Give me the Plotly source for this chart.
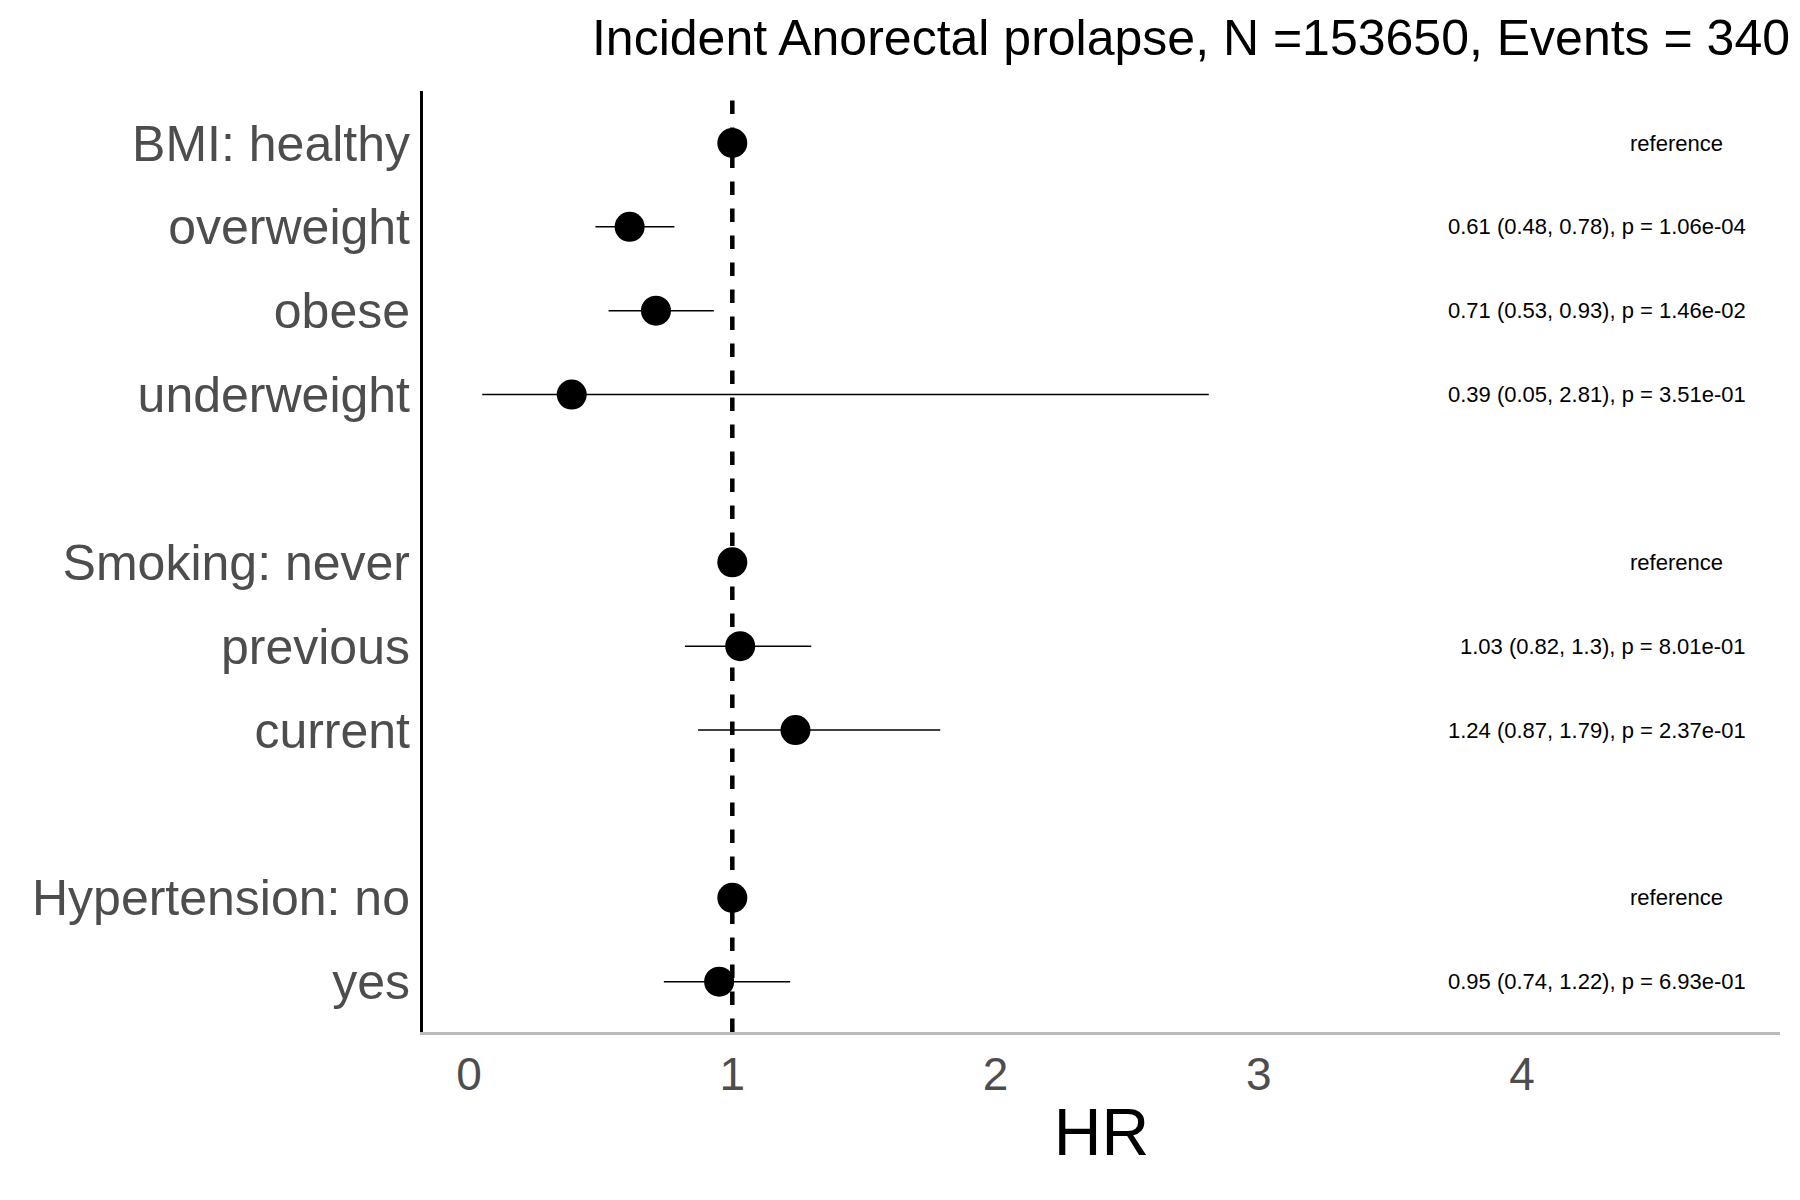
import plotly.graph_objects as go

labels = ["BMI: healthy", "overweight", "obese", "underweight", "",
          "Smoking: never", "previous", "current", "",
          "Hypertension: no", "yes"]
hr = [1, 0.61, 0.71, 0.39, None, 1, 1.03, 1.24, None, 1, 0.95]
lo = [1, 0.48, 0.53, 0.05, None, 1, 0.82, 0.87, None, 1, 0.74]
hi = [1, 0.78, 0.93, 2.81, None, 1, 1.30, 1.79, None, 1, 1.22]
notes = ["reference", "0.61 (0.48, 0.78), p = 1.06e-04", "0.71 (0.53, 0.93), p = 1.46e-02",
         "0.39 (0.05, 2.81), p = 3.51e-01", "", "reference",
         "1.03 (0.82, 1.3), p = 8.01e-01", "1.24 (0.87, 1.79), p = 2.37e-01", "",
         "reference", "0.95 (0.74, 1.22), p = 6.93e-01"]

rows = list(range(len(labels)))
keep = [i for i in rows if hr[i] is not None]

fig = go.Figure()
fig.add_trace(go.Scatter(
    x=[hr[i] for i in keep], y=keep, mode="markers",
    marker=dict(color="black", size=30),
    error_x=dict(type="data", symmetric=False,
                 array=[hi[i] - hr[i] for i in keep],
                 arrayminus=[hr[i] - lo[i] for i in keep],
                 color="black", thickness=1.5, width=0),
    showlegend=False))

fig.add_shape(type="line", x0=1, x1=1, y0=0, y1=1, yref="paper",
              line=dict(color="black", width=4.5, dash="dash"))

for i in keep:
    if notes[i] == "reference":
        fig.add_annotation(x=4.585, y=i, text=notes[i], showarrow=False,
                           xanchor="center", font=dict(size=22, color="black"))
    else:
        fig.add_annotation(x=4.86, y=i, text=notes[i], showarrow=False,
                           xanchor="right", font=dict(size=22, color="black"))

fig.update_layout(
    width=1800, height=1200, plot_bgcolor="white", paper_bgcolor="white",
    font=dict(family="Liberation Sans, Arial, sans-serif"),
    margin=dict(l=415, r=28, t=83, b=176),
    title=dict(text="Incident Anorectal prolapse, N =153650, Events = 340",
               x=0.99, xanchor="right", y=0.99, yanchor="top",
               font=dict(size=50, color="black")),
    xaxis=dict(range=[-0.175, 4.98], tickvals=[0, 1, 2, 3, 4],
               showgrid=False, zeroline=False, showline=True,
               linecolor="#bbbbbb", linewidth=3, ticks="",
               tickfont=dict(size=46, color="#4d4d4d"),
               title=dict(text="HR", font=dict(size=66, color="black"), standoff=10)),
    yaxis=dict(range=[10.6, -0.62], tickvals=rows, ticktext=labels,
               showgrid=False, zeroline=False, showline=True,
               linecolor="black", linewidth=3, ticks="", ticklen=0,
               tickfont=dict(size=50, color="#4d4d4d")),
)

fig.write_html("out.html")
